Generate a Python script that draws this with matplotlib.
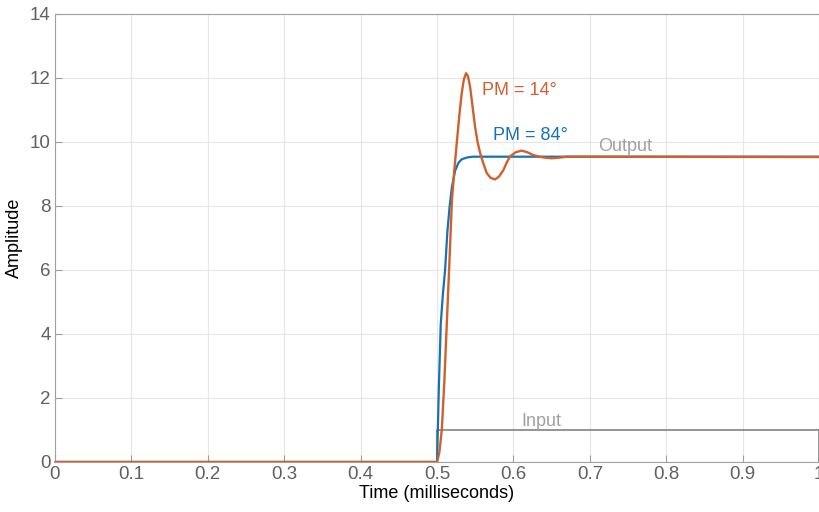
import matplotlib.pyplot as plt

# ---- data ----
t_in = [0.0, 0.5, 0.5, 1.0, 1.0]
u_in = [0.0, 0.0, 1.0, 1.0, 0.0]

t_pm84 = [0.0, 0.5, 0.5022, 0.5048, 0.5075, 0.5105, 0.5135, 0.5165, 0.5195,
          0.5236, 0.528, 0.5323, 0.54, 0.5471, 1.0]
y_pm84 = [0.0, 0.0, 2.2, 4.3, 5.2, 6.0, 7.2, 8.0, 8.6,
          9.1, 9.35, 9.46, 9.52, 9.54, 9.54]

t_pm14 = [0.0, 0.5, 0.503, 0.5062, 0.5095, 0.5127, 0.5161, 0.5195, 0.5225,
          0.5258, 0.529, 0.5323, 0.535, 0.538, 0.5405, 0.5432, 0.5465,
          0.5497, 0.553, 0.5563, 0.561, 0.565, 0.570, 0.5759, 0.581,
          0.5868, 0.591, 0.5955, 0.603, 0.6108, 0.618, 0.626, 0.634,
          0.6414, 0.650, 0.660, 0.6698, 1.0]
y_pm14 = [0.0, 0.0, 0.3, 1.0, 2.5, 4.3, 6.2, 8.2, 9.1,
          9.97, 10.8, 11.53, 11.95, 12.15, 12.05, 11.73, 11.1,
          10.48, 10.0, 9.66, 9.3, 9.03, 8.88, 8.83, 8.92,
          9.12, 9.35, 9.55, 9.68, 9.73, 9.68, 9.59, 9.54,
          9.51, 9.49, 9.51, 9.54, 9.53]

xticks = [0, 0.1, 0.2, 0.3, 0.4, 0.5, 0.6, 0.7, 0.8, 0.9, 1]
xlabels = ["0", "0.1", "0.2", "0.3", "0.4", "0.5", "0.6", "0.7", "0.8", "0.9", "1"]
yticks = [0, 2, 4, 6, 8, 10, 12, 14]

BLUE = "#1572B3"
ORANGE = "#D0602C"
GRAY = "#8c8c8c"

plt.rcParams["font.family"] = ["Liberation Sans", "DejaVu Sans"]

fig = plt.figure(figsize=(8.2, 5.12), dpi=100)
ax = fig.add_axes([0.067, 0.0977, 0.932, 0.875])

ax.plot(t_in, u_in, color=GRAY, lw=1.3, clip_on=False, zorder=2)
ax.plot(t_pm84, y_pm84, color=BLUE, lw=1.6, zorder=3)
ax.plot(t_pm14, y_pm14, color=ORANGE, lw=1.7, zorder=4)

ax.text(0.559, 11.6, "PM = 14°", color=ORANGE, fontsize=13, va="center")
ax.text(0.573, 10.2, "PM = 84°", color=BLUE, fontsize=13, va="center")
ax.text(0.711, 9.87, "Output", color="#a0a0a0", fontsize=13, va="center")
ax.text(0.610, 1.28, "Input", color="#a0a0a0", fontsize=13, va="center")

ax.set_xlim(0, 1)
ax.set_ylim(0, 14)
ax.set_xticks(xticks)
ax.set_xticklabels(xlabels)
ax.set_yticks(yticks)
ax.grid(True, color="#e6e6e6", lw=0.8)
ax.set_axisbelow(True)

for side in ["left", "bottom", "top"]:
    ax.spines[side].set_color("#a0a0a0")
ax.spines["right"].set_visible(False)
ax.tick_params(direction="in", length=5, color="#a0a0a0", labelcolor="#606060",
               labelsize=13.5, top=False, right=False, pad=3)

ax.set_xlabel("Time (milliseconds)", fontsize=13, labelpad=1)
ax.set_ylabel("Amplitude", fontsize=13, labelpad=5)

fig.savefig("out.png")
